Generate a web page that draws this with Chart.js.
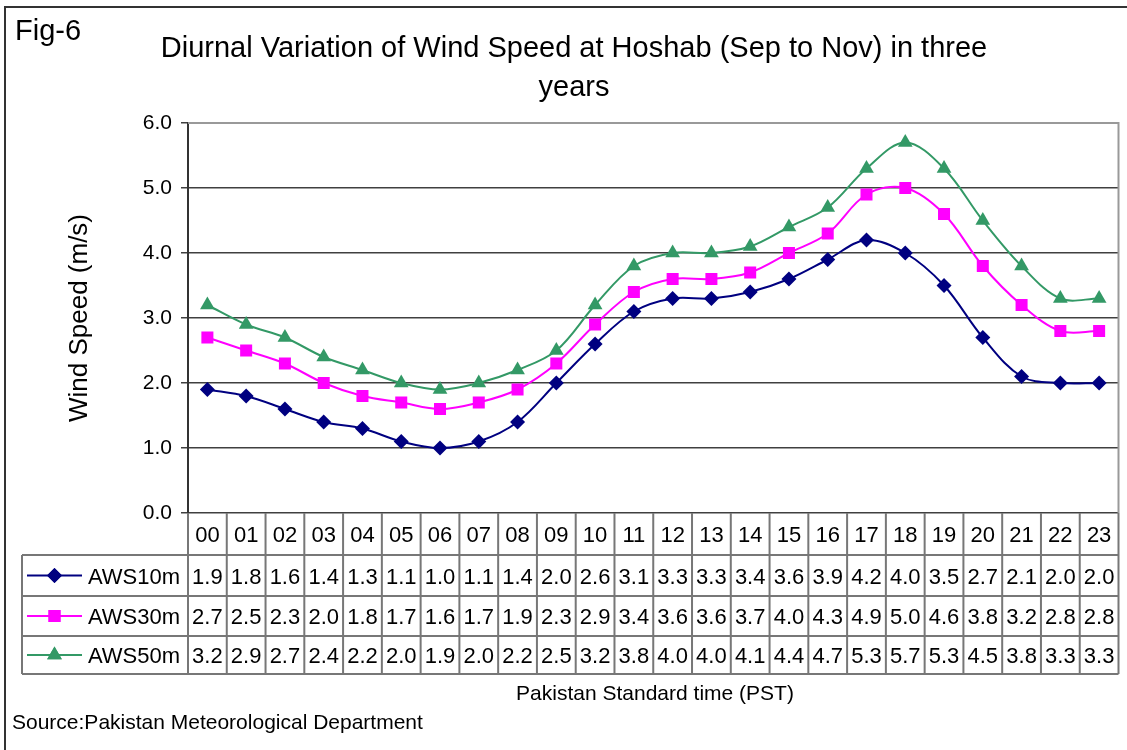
<!DOCTYPE html>
<html>
<head>
<meta charset="utf-8">
<script src="https://cdn.jsdelivr.net/npm/chart.js@4/dist/chart.umd.min.js"></script>
<style>
  html, body { margin: 0; padding: 0; background: #fff; }
  #wrap { width: 1127px; height: 750px; }
</style>
</head>
<body>
<div id="wrap"><canvas id="windChart" width="1127" height="750"></canvas></div>
<script>
const hours = ['00','01','02','03','04','05','06','07','08','09','10','11',
               '12','13','14','15','16','17','18','19','20','21','22','23'];
const aws10 = [1.9,1.8,1.6,1.4,1.3,1.1,1.0,1.1,1.4,2.0,2.6,3.1,3.3,3.3,3.4,3.6,3.9,4.2,4.0,3.5,2.7,2.1,2.0,2.0];
const aws30 = [2.7,2.5,2.3,2.0,1.8,1.7,1.6,1.7,1.9,2.3,2.9,3.4,3.6,3.6,3.7,4.0,4.3,4.9,5.0,4.6,3.8,3.2,2.8,2.8];
const aws50 = [3.2,2.9,2.7,2.4,2.2,2.0,1.9,2.0,2.2,2.5,3.2,3.8,4.0,4.0,4.1,4.4,4.7,5.3,5.7,5.3,4.5,3.8,3.3,3.3];
const yTicks = [0, 1, 2, 3, 4, 5, 6];

const FONT = '"Liberation Sans", Arial, sans-serif';

// table rows below the plot (bottom edges of header + 3 series rows)
const rowLines = [555, 596, 636, 674];

const series = [
  { label: 'AWS10m', data: aws10, color: '#000080', style: 'rectRot', r: 7.5 },
  { label: 'AWS30m', data: aws30, color: '#FF00FF', style: 'rect', r: 8.5 },
  { label: 'AWS50m', data: aws50, color: '#339966', style: 'triangle', r: 8.5 }
];

const extras = {
  id: 'extras',
  afterDraw(chart) {
    const ctx = chart.ctx;
    const a = chart.chartArea;
    const xs = chart.scales.x;
    const colW = (a.right - a.left) / hours.length;
    ctx.save();

    // outer frame (left + top)
    ctx.strokeStyle = '#333';
    ctx.lineWidth = 2;
    ctx.beginPath();
    ctx.moveTo(5, 750); ctx.lineTo(5, 7); ctx.lineTo(1127, 7);
    ctx.stroke();

    // plot border top/right
    ctx.strokeStyle = '#999';
    ctx.beginPath();
    ctx.moveTo(a.left, a.top); ctx.lineTo(a.right, a.top); ctx.lineTo(a.right, a.bottom);
    ctx.stroke();

    // data table grid
    ctx.strokeStyle = '#777';
    ctx.lineWidth = 2;
    ctx.beginPath();
    for (let i = 0; i <= hours.length; i++) {
      const x = a.left + i * colW;
      ctx.moveTo(x, a.bottom); ctx.lineTo(x, rowLines[3]);
    }
    rowLines.forEach(y => { ctx.moveTo(22, y); ctx.lineTo(a.right, y); });
    ctx.moveTo(22, rowLines[0]); ctx.lineTo(22, rowLines[3]);
    ctx.stroke();

    ctx.fillStyle = '#000';
    ctx.font = '22px ' + FONT;
    ctx.textAlign = 'center';
    ctx.textBaseline = 'alphabetic';
    hours.forEach((h, i) => {
      ctx.fillText(h, xs.getPixelForValue(i), (a.bottom + rowLines[0]) / 2 + 8);
    });
    series.forEach((s, r) => {
      const yc = (rowLines[r] + rowLines[r + 1]) / 2;
      ctx.textAlign = 'center';
      ctx.fillStyle = '#000';
      s.data.forEach((v, i) => {
        ctx.fillText(v.toFixed(1), xs.getPixelForValue(i), yc + 8);
      });
      // legend key
      ctx.strokeStyle = s.color;
      ctx.lineWidth = 2;
      ctx.beginPath();
      ctx.moveTo(27, yc); ctx.lineTo(82, yc);
      ctx.stroke();
      ctx.fillStyle = s.color;
      Chart.helpers.drawPoint(ctx, { pointStyle: s.style, radius: s.r, rotation: 0, borderWidth: 0 }, 54.5, yc);
      ctx.fill();
      ctx.fillStyle = '#000';
      ctx.textAlign = 'left';
      ctx.fillText(s.label, 88, yc + 8);
    });

    // texts
    ctx.fillStyle = '#000';
    ctx.textAlign = 'left';
    ctx.font = '29px ' + FONT;
    ctx.fillText('Fig-6', 15, 40);
    ctx.font = '29px ' + FONT;
    ctx.textAlign = 'center';
    ctx.fillText('Diurnal Variation of Wind Speed at Hoshab (Sep to Nov) in three', 574, 57);
    ctx.fillText('years', 574, 96);
    ctx.font = '21px ' + FONT;
    ctx.fillText('Pakistan Standard time (PST)', 655, 700);
    ctx.textAlign = 'left';
    ctx.fillText('Source:Pakistan Meteorological Department', 12, 729);

    ctx.save();
    ctx.translate(87, 318);
    ctx.rotate(-Math.PI / 2);
    ctx.textAlign = 'center';
    ctx.font = '26px ' + FONT;
    ctx.fillText('Wind Speed (m/s)', 0, 0);
    ctx.restore();

    ctx.restore();
  }
};

new Chart(document.getElementById('windChart'), {
  type: 'line',
  data: {
    labels: hours,
    datasets: series.map(s => ({
      label: s.label,
      data: s.data,
      borderColor: s.color,
      backgroundColor: s.color,
      borderWidth: 2,
      pointStyle: s.style,
      pointRadius: s.r,
      pointBorderWidth: 0,
      tension: 0.35,
      fill: false
    }))
  },
  options: {
    responsive: false,
    animation: false,
    layout: { padding: { left: 0, right: 8, top: 123, bottom: 237 } },
    plugins: {
      legend: { display: false },
      title: { display: false },
      tooltip: { enabled: false }
    },
    scales: {
      x: {
        type: 'category',
        offset: true,
        display: false
      },
      y: {
        min: 0,
        max: 6,
        afterFit(scale) { scale.width = 188; },
        afterBuildTicks(scale) { scale.ticks = yTicks.map(v => ({ value: v })); },
        ticks: {
          color: '#000',
          padding: 9,
          font: { family: FONT, size: 21 },
          callback: v => v.toFixed(1)
        },
        grid: { color: '#404040', lineWidth: 1.5, tickLength: 7, tickColor: '#404040' },
        border: { color: '#333', width: 2 }
      }
    }
  },
  plugins: [extras]
});
</script>
</body>
</html>
